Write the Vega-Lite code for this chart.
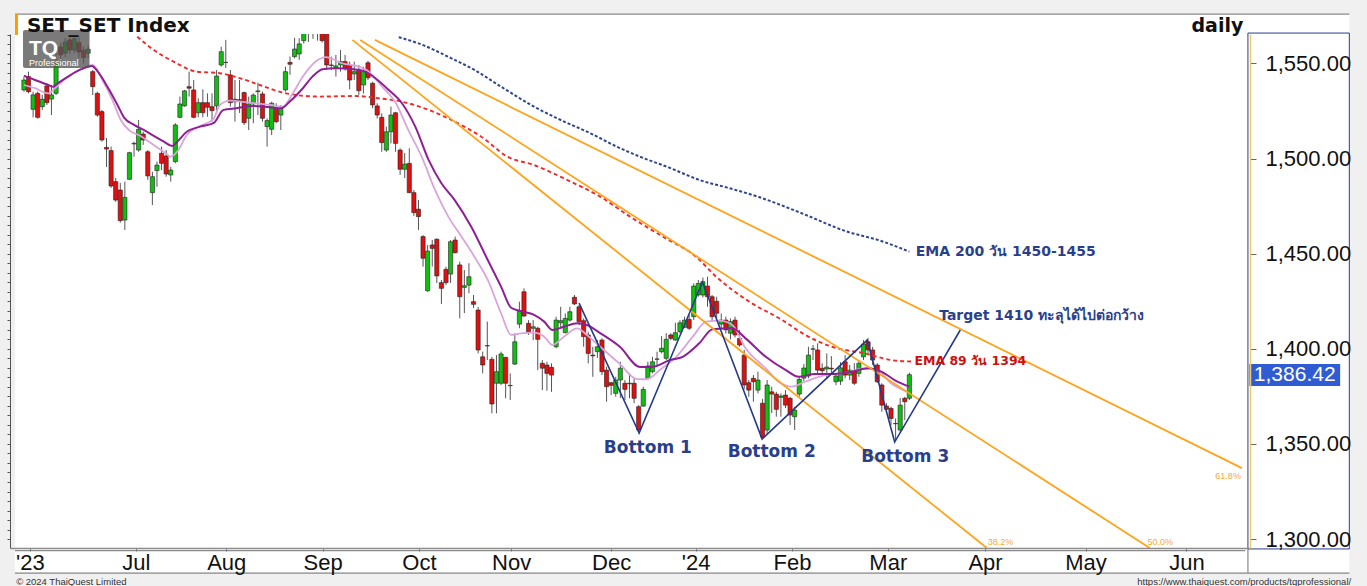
{
"$schema": "https://vega.github.io/schema/vega-lite/v6.json",
"autosize": {"type": "none"},
"width": 1240, "height": 514,
"padding": {"left": 10, "top": 34, "right": 117, "bottom": 38},
"background": "#f0f0f0",
"config": {"view": {"stroke": null}},
"resolve": {"axis": {"x": "independent", "y": "independent"}},
"datasets": {
"bg": [{"x1": -1.95, "x2": 288.9, "y1": 1576.0, "y2": 1282.6}],
"frame": [
{"x1": -1.95, "x2": 288.9, "y1": 1576.0, "y2": 1576.0},
{"x1": -1.95, "x2": 288.9, "y1": 1282.1, "y2": 1282.1},
{"x1": -1.95, "x2": 266.2, "y1": 1293.9, "y2": 1293.9},
{"x1": 266.8, "x2": 266.8, "y1": 1295.3, "y2": 1282.1}
],
"marker": [{"x1": -1.95, "x2": -1.3, "y1": 1576.0, "y2": 1565.0}],
"candles": [
{"t":0,"o":1536.1,"h":1543.1,"l":1535.2,"c":1541.3},
{"t":1,"o":1543.1,"h":1545.7,"l":1534.3,"c":1535.2},
{"t":2,"o":1525.9,"h":1535.2,"l":1521.7,"c":1533.5},
{"t":3,"o":1534.3,"h":1535.2,"l":1521.0,"c":1521.7},
{"t":4,"o":1527.3,"h":1533.5,"l":1525.6,"c":1531.2},
{"t":5,"o":1538.2,"h":1539.6,"l":1528.2,"c":1529.4},
{"t":6,"o":1531.3,"h":1538.7,"l":1522.9,"c":1533.5},
{"t":7,"o":1534.3,"h":1555.4,"l":1533.4,"c":1550.1},
{"t":8,"o":1558.7,"h":1560.8,"l":1551.9,"c":1554.5},
{"t":9,"o":1555.5,"h":1563.4,"l":1553.4,"c":1561.3},
{"t":10,"o":1562.4,"h":1563.4,"l":1555.0,"c":1557.1},
{"t":11,"o":1557.1,"h":1564.0,"l":1555.5,"c":1563.0},
{"t":12,"o":1561.0,"h":1564.0,"l":1553.0,"c":1556.0},
{"t":13,"o":1557.0,"h":1559.0,"l":1550.0,"c":1553.0},
{"t":14,"o":1555.4,"h":1559.7,"l":1552.9,"c":1557.5},
{"t":15,"o":1545.7,"h":1546.6,"l":1533.4,"c":1537.8},
{"t":16,"o":1534.3,"h":1535.2,"l":1522.0,"c":1522.9},
{"t":17,"o":1524.7,"h":1525.6,"l":1508.9,"c":1509.8},
{"t":18,"o":1505.9,"h":1510.8,"l":1495.6,"c":1505.0},
{"t":19,"o":1504.2,"h":1506.3,"l":1484.6,"c":1485.6},
{"t":20,"o":1487.9,"h":1489.8,"l":1477.3,"c":1478.2},
{"t":21,"o":1483.5,"h":1487.2,"l":1466.3,"c":1467.4},
{"t":22,"o":1467.7,"h":1487.9,"l":1462.5,"c":1479.6},
{"t":23,"o":1489.1,"h":1503.6,"l":1488.8,"c":1503.1},
{"t":24,"o":1507.7,"h":1508.9,"l":1501.0,"c":1508.0},
{"t":25,"o":1504.5,"h":1520.3,"l":1503.6,"c":1515.4},
{"t":26,"o":1512.9,"h":1514.1,"l":1507.2,"c":1509.8},
{"t":27,"o":1503.6,"h":1504.5,"l":1488.8,"c":1490.9},
{"t":28,"o":1482.1,"h":1493.1,"l":1475.6,"c":1490.5},
{"t":29,"o":1493.7,"h":1498.4,"l":1485.2,"c":1496.6},
{"t":30,"o":1502.8,"h":1506.3,"l":1494.0,"c":1497.5},
{"t":31,"o":1501.4,"h":1504.5,"l":1490.5,"c":1491.9},
{"t":32,"o":1491.4,"h":1495.7,"l":1487.9,"c":1494.0},
{"t":33,"o":1498.4,"h":1518.6,"l":1497.5,"c":1517.7},
{"t":34,"o":1521.7,"h":1532.6,"l":1521.2,"c":1528.7},
{"t":35,"o":1527.7,"h":1536.1,"l":1527.3,"c":1535.6},
{"t":36,"o":1537.8,"h":1545.7,"l":1532.6,"c":1537.0},
{"t":37,"o":1536.1,"h":1541.3,"l":1521.2,"c":1521.7},
{"t":38,"o":1524.1,"h":1531.7,"l":1521.7,"c":1529.4},
{"t":39,"o":1529.4,"h":1536.4,"l":1521.7,"c":1524.1},
{"t":40,"o":1529.4,"h":1534.3,"l":1522.0,"c":1527.0},
{"t":41,"o":1527.3,"h":1534.3,"l":1519.4,"c":1525.2},
{"t":42,"o":1527.7,"h":1546.6,"l":1523.8,"c":1543.4},
{"t":43,"o":1549.2,"h":1558.8,"l":1548.3,"c":1556.2},
{"t":44,"o":1550.5,"h":1562.4,"l":1547.6,"c":1550.6},
{"t":45,"o":1544.0,"h":1546.6,"l":1527.3,"c":1529.4},
{"t":46,"o":1531.2,"h":1541.3,"l":1519.4,"c":1529.9},
{"t":47,"o":1531.0,"h":1541.3,"l":1524.0,"c":1530.4},
{"t":48,"o":1534.7,"h":1535.2,"l":1517.7,"c":1518.9},
{"t":49,"o":1521.2,"h":1532.6,"l":1515.0,"c":1528.7},
{"t":50,"o":1528.7,"h":1534.3,"l":1518.6,"c":1533.4},
{"t":51,"o":1535.2,"h":1539.9,"l":1522.9,"c":1535.6},
{"t":52,"o":1534.0,"h":1535.2,"l":1519.4,"c":1521.2},
{"t":53,"o":1516.8,"h":1521.2,"l":1506.3,"c":1520.0},
{"t":54,"o":1515.4,"h":1529.9,"l":1512.4,"c":1529.1},
{"t":55,"o":1526.5,"h":1529.1,"l":1518.6,"c":1519.4},
{"t":56,"o":1522.9,"h":1528.2,"l":1515.0,"c":1526.5},
{"t":57,"o":1536.1,"h":1548.3,"l":1535.2,"c":1545.7},
{"t":58,"o":1550.6,"h":1553.6,"l":1544.0,"c":1549.6},
{"t":59,"o":1553.6,"h":1563.5,"l":1552.7,"c":1557.6},
{"t":60,"o":1555.0,"h":1563.3,"l":1551.9,"c":1560.3},
{"t":61,"o":1562.0,"h":1572.0,"l":1560.5,"c":1568.0},
{"t":62,"o":1566.0,"h":1574.0,"l":1561.3,"c":1570.0},
{"t":63,"o":1570.0,"h":1576.0,"l":1563.0,"c":1567.0},
{"t":64,"o":1567.0,"h":1572.0,"l":1562.0,"c":1570.0},
{"t":65,"o":1570.0,"h":1573.0,"l":1561.0,"c":1562.0},
{"t":66,"o":1566.0,"h":1568.0,"l":1547.0,"c":1549.2},
{"t":67,"o":1549.2,"h":1553.6,"l":1546.6,"c":1549.0},
{"t":68,"o":1547.8,"h":1554.5,"l":1543.1,"c":1548.7},
{"t":69,"o":1549.2,"h":1557.1,"l":1545.7,"c":1551.0},
{"t":70,"o":1551.0,"h":1554.5,"l":1546.3,"c":1547.5},
{"t":71,"o":1549.2,"h":1551.0,"l":1536.4,"c":1541.3},
{"t":72,"o":1544.5,"h":1551.0,"l":1541.3,"c":1545.7},
{"t":73,"o":1546.6,"h":1549.2,"l":1533.4,"c":1535.7},
{"t":74,"o":1538.7,"h":1548.3,"l":1534.2,"c":1545.7},
{"t":75,"o":1550.4,"h":1551.4,"l":1541.3,"c":1542.5},
{"t":76,"o":1539.6,"h":1540.4,"l":1526.5,"c":1528.2},
{"t":77,"o":1527.7,"h":1529.1,"l":1521.1,"c":1522.9},
{"t":78,"o":1521.7,"h":1523.8,"l":1503.6,"c":1508.4},
{"t":79,"o":1504.5,"h":1516.8,"l":1503.6,"c":1514.1},
{"t":80,"o":1514.1,"h":1527.3,"l":1508.0,"c":1522.9},
{"t":81,"o":1524.1,"h":1524.6,"l":1503.6,"c":1508.0},
{"t":82,"o":1504.5,"h":1505.4,"l":1491.4,"c":1494.4},
{"t":83,"o":1494.4,"h":1502.9,"l":1489.8,"c":1497.1},
{"t":84,"o":1497.5,"h":1505.4,"l":1481.8,"c":1482.1},
{"t":85,"o":1482.1,"h":1483.5,"l":1469.9,"c":1471.6},
{"t":86,"o":1473.4,"h":1478.2,"l":1462.5,"c":1469.5},
{"t":87,"o":1459.0,"h":1459.8,"l":1443.2,"c":1447.6},
{"t":88,"o":1430.5,"h":1454.6,"l":1430.0,"c":1451.4},
{"t":89,"o":1454.6,"h":1457.2,"l":1443.2,"c":1452.8},
{"t":90,"o":1457.6,"h":1458.1,"l":1434.6,"c":1438.3},
{"t":91,"o":1434.8,"h":1436.2,"l":1423.6,"c":1431.8},
{"t":92,"o":1441.8,"h":1443.2,"l":1433.5,"c":1434.8},
{"t":93,"o":1439.3,"h":1457.2,"l":1434.6,"c":1456.3},
{"t":94,"o":1457.2,"h":1459.0,"l":1450.2,"c":1450.5},
{"t":95,"o":1444.1,"h":1445.8,"l":1416.0,"c":1427.4},
{"t":96,"o":1432.3,"h":1441.4,"l":1418.8,"c":1433.2},
{"t":97,"o":1433.5,"h":1445.0,"l":1429.2,"c":1437.9},
{"t":98,"o":1424.8,"h":1428.3,"l":1421.5,"c":1423.4},
{"t":99,"o":1420.4,"h":1422.1,"l":1397.6,"c":1399.4},
{"t":100,"o":1395.8,"h":1398.5,"l":1387.1,"c":1391.5},
{"t":101,"o":1401.5,"h":1414.3,"l":1394.1,"c":1401.7},
{"t":102,"o":1394.5,"h":1395.8,"l":1366.1,"c":1371.0},
{"t":103,"o":1381.9,"h":1396.7,"l":1366.1,"c":1388.0},
{"t":104,"o":1381.9,"h":1398.5,"l":1381.0,"c":1397.3},
{"t":105,"o":1395.5,"h":1395.8,"l":1374.0,"c":1381.9},
{"t":106,"o":1380.6,"h":1387.1,"l":1373.1,"c":1380.8},
{"t":107,"o":1392.0,"h":1408.2,"l":1391.5,"c":1403.7},
{"t":108,"o":1413.0,"h":1424.8,"l":1410.8,"c":1420.0},
{"t":109,"o":1430.0,"h":1431.8,"l":1416.9,"c":1417.2},
{"t":110,"o":1413.4,"h":1415.1,"l":1407.3,"c":1408.5},
{"t":111,"o":1410.8,"h":1415.1,"l":1404.6,"c":1411.6},
{"t":112,"o":1410.8,"h":1411.6,"l":1388.8,"c":1405.0},
{"t":113,"o":1392.4,"h":1394.1,"l":1378.3,"c":1389.8},
{"t":114,"o":1391.5,"h":1393.2,"l":1378.0,"c":1387.1},
{"t":115,"o":1390.3,"h":1392.4,"l":1377.4,"c":1386.2},
{"t":116,"o":1401.1,"h":1416.9,"l":1400.3,"c":1415.1},
{"t":117,"o":1413.7,"h":1422.1,"l":1410.8,"c":1414.8},
{"t":118,"o":1408.5,"h":1418.6,"l":1408.2,"c":1416.0},
{"t":119,"o":1415.1,"h":1422.1,"l":1414.3,"c":1419.5},
{"t":120,"o":1427.1,"h":1428.3,"l":1423.0,"c":1423.6},
{"t":121,"o":1422.1,"h":1423.0,"l":1412.5,"c":1414.3},
{"t":122,"o":1414.8,"h":1416.0,"l":1401.1,"c":1406.4},
{"t":123,"o":1407.3,"h":1409.0,"l":1392.4,"c":1397.6},
{"t":124,"o":1396.7,"h":1401.1,"l":1385.3,"c":1396.3},
{"t":125,"o":1398.5,"h":1404.6,"l":1395.2,"c":1401.1},
{"t":126,"o":1404.6,"h":1405.6,"l":1386.2,"c":1388.0},
{"t":127,"o":1388.8,"h":1390.6,"l":1372.2,"c":1380.1},
{"t":128,"o":1382.2,"h":1382.7,"l":1375.7,"c":1380.8},
{"t":129,"o":1376.6,"h":1385.3,"l":1374.8,"c":1383.6},
{"t":130,"o":1383.6,"h":1393.2,"l":1374.1,"c":1389.8},
{"t":131,"o":1381.9,"h":1383.6,"l":1373.1,"c":1378.7},
{"t":132,"o":1381.9,"h":1387.1,"l":1374.0,"c":1381.6},
{"t":133,"o":1381.9,"h":1384.5,"l":1371.4,"c":1374.0},
{"t":134,"o":1369.6,"h":1370.4,"l":1355.6,"c":1357.3},
{"t":135,"o":1369.9,"h":1380.1,"l":1369.6,"c":1378.7},
{"t":136,"o":1384.5,"h":1393.2,"l":1383.6,"c":1391.0},
{"t":137,"o":1388.0,"h":1395.8,"l":1387.1,"c":1393.2},
{"t":138,"o":1394.5,"h":1398.5,"l":1391.5,"c":1394.7},
{"t":139,"o":1398.5,"h":1406.7,"l":1397.6,"c":1400.3},
{"t":140,"o":1395.0,"h":1408.2,"l":1394.1,"c":1405.0},
{"t":141,"o":1407.3,"h":1408.2,"l":1404.6,"c":1405.5},
{"t":142,"o":1404.6,"h":1413.7,"l":1404.3,"c":1408.5},
{"t":143,"o":1409.0,"h":1415.1,"l":1408.2,"c":1413.7},
{"t":144,"o":1411.3,"h":1416.9,"l":1410.8,"c":1415.1},
{"t":145,"o":1415.5,"h":1417.8,"l":1409.9,"c":1410.8},
{"t":146,"o":1416.9,"h":1434.4,"l":1415.1,"c":1433.0},
{"t":147,"o":1428.3,"h":1436.2,"l":1427.4,"c":1434.4},
{"t":148,"o":1428.3,"h":1437.5,"l":1427.0,"c":1435.3},
{"t":149,"o":1433.0,"h":1437.9,"l":1422.1,"c":1427.4},
{"t":150,"o":1427.4,"h":1428.3,"l":1414.3,"c":1416.9},
{"t":151,"o":1425.0,"h":1427.4,"l":1416.0,"c":1418.7},
{"t":152,"o":1413.0,"h":1418.6,"l":1410.4,"c":1415.1},
{"t":153,"o":1415.1,"h":1416.9,"l":1408.0,"c":1410.0},
{"t":154,"o":1408.2,"h":1416.0,"l":1405.0,"c":1414.3},
{"t":155,"o":1415.1,"h":1416.9,"l":1406.0,"c":1407.3},
{"t":156,"o":1405.5,"h":1409.9,"l":1401.1,"c":1402.0},
{"t":157,"o":1396.7,"h":1399.4,"l":1378.7,"c":1381.0},
{"t":158,"o":1382.2,"h":1383.6,"l":1374.8,"c":1378.3},
{"t":159,"o":1384.5,"h":1386.2,"l":1372.2,"c":1382.7},
{"t":160,"o":1378.3,"h":1388.0,"l":1376.6,"c":1383.6},
{"t":161,"o":1371.4,"h":1373.7,"l":1352.6,"c":1353.6},
{"t":162,"o":1357.3,"h":1383.6,"l":1354.7,"c":1381.0},
{"t":163,"o":1377.4,"h":1380.1,"l":1366.2,"c":1376.2},
{"t":164,"o":1376.2,"h":1377.4,"l":1364.3,"c":1368.2},
{"t":165,"o":1374.5,"h":1376.6,"l":1364.3,"c":1375.2},
{"t":166,"o":1375.7,"h":1378.3,"l":1368.9,"c":1370.4},
{"t":167,"o":1374.0,"h":1374.8,"l":1360.0,"c":1365.2},
{"t":168,"o":1364.3,"h":1369.6,"l":1357.3,"c":1367.8},
{"t":169,"o":1376.2,"h":1385.3,"l":1374.8,"c":1383.9},
{"t":170,"o":1384.6,"h":1392.0,"l":1383.0,"c":1389.9},
{"t":171,"o":1385.7,"h":1401.1,"l":1384.5,"c":1396.7},
{"t":172,"o":1399.8,"h":1402.0,"l":1394.1,"c":1400.0},
{"t":173,"o":1399.4,"h":1402.9,"l":1387.1,"c":1388.8},
{"t":174,"o":1389.8,"h":1392.4,"l":1387.1,"c":1388.5},
{"t":175,"o":1389.4,"h":1397.6,"l":1384.5,"c":1390.4},
{"t":176,"o":1389.8,"h":1396.2,"l":1387.1,"c":1389.4},
{"t":177,"o":1382.7,"h":1387.1,"l":1380.9,"c":1385.7},
{"t":178,"o":1383.0,"h":1393.0,"l":1381.0,"c":1390.0},
{"t":179,"o":1393.2,"h":1396.7,"l":1384.5,"c":1386.2},
{"t":180,"o":1386.2,"h":1391.5,"l":1383.6,"c":1388.8},
{"t":181,"o":1388.5,"h":1392.4,"l":1381.0,"c":1381.9},
{"t":182,"o":1387.1,"h":1394.1,"l":1385.3,"c":1392.4},
{"t":183,"o":1395.8,"h":1404.6,"l":1394.1,"c":1402.5},
{"t":184,"o":1403.7,"h":1405.6,"l":1397.6,"c":1399.4},
{"t":185,"o":1399.4,"h":1401.1,"l":1391.5,"c":1394.1},
{"t":186,"o":1391.5,"h":1392.5,"l":1382.0,"c":1382.7},
{"t":187,"o":1381.0,"h":1381.9,"l":1366.9,"c":1370.4},
{"t":188,"o":1369.9,"h":1371.5,"l":1366.2,"c":1368.2},
{"t":189,"o":1368.7,"h":1369.6,"l":1359.9,"c":1363.4},
{"t":190,"o":1360.8,"h":1363.4,"l":1352.1,"c":1360.6},
{"t":191,"o":1357.3,"h":1374.1,"l":1356.4,"c":1370.4},
{"t":192,"o":1374.0,"h":1374.8,"l":1362.5,"c":1372.2},
{"t":193,"o":1374.0,"h":1387.5,"l":1373.1,"c":1386.42}
],
"ema_dark": [
{"t":0,"v":1543.6},{"t":2.4,"v":1541.3},{"t":5.3,"v":1538.7},{"t":6.3,"v":1537.8},{"t":7.4,"v":1539.6},{"t":9.6,"v":1543.1},{"t":12.5,"v":1547.0},{"t":14.8,"v":1548.7},{"t":16.1,"v":1545.7},{"t":18.2,"v":1537.8},{"t":20.4,"v":1528.2},{"t":21.8,"v":1521.7},{"t":24,"v":1517.7},{"t":26.2,"v":1515.0},{"t":28.3,"v":1511.9},{"t":30.5,"v":1508.9},{"t":32.3,"v":1506.6},{"t":33.4,"v":1508.9},{"t":35.5,"v":1514.1},{"t":38.4,"v":1516.8},{"t":41.3,"v":1518.6},{"t":43.5,"v":1525.6},{"t":46.3,"v":1526.5},{"t":49.9,"v":1527.7},{"t":53.6,"v":1527.0},{"t":56.1,"v":1526.5},{"t":57.9,"v":1529.9},{"t":60.8,"v":1537.0},{"t":62.9,"v":1543.1},{"t":65.1,"v":1547.0},{"t":68,"v":1547.5},{"t":71.6,"v":1547.0},{"t":74.4,"v":1545.7},{"t":76.6,"v":1542.2},{"t":79.5,"v":1536.1},{"t":82.4,"v":1529.1},{"t":85.3,"v":1516.8},{"t":88.2,"v":1499.3},{"t":91,"v":1487.0},{"t":93.9,"v":1478.2},{"t":97.5,"v":1464.2},{"t":101.1,"v":1446.7},{"t":104,"v":1432.7},{"t":106.2,"v":1421.6},{"t":108.3,"v":1419.9},{"t":111.2,"v":1417.8},{"t":113.4,"v":1414.3},{"t":115.2,"v":1409.9},{"t":117.7,"v":1411.6},{"t":120.6,"v":1413.4},{"t":122.7,"v":1412.5},{"t":125.6,"v":1408.3},{"t":129.9,"v":1401.1},{"t":134.3,"v":1390.4},{"t":137.1,"v":1390.6},{"t":140.8,"v":1394.1},{"t":143.6,"v":1395.8},{"t":147.2,"v":1402.9},{"t":150.1,"v":1410.3},{"t":154.4,"v":1410.8},{"t":157.3,"v":1405.5},{"t":161.7,"v":1395.8},{"t":166,"v":1388.9},{"t":168.9,"v":1385.3},{"t":172.5,"v":1386.8},{"t":176.1,"v":1386.8},{"t":180.4,"v":1388.0},{"t":184,"v":1389.8},{"t":186.9,"v":1388.0},{"t":189.8,"v":1383.6},{"t":193,"v":1380.1}
],
"ema_light": [
{"t":0,"v":1538.7},{"t":2.4,"v":1537.0},{"t":5.3,"v":1534.3},{"t":7.1,"v":1537.8},{"t":9.6,"v":1543.1},{"t":12.5,"v":1547.0},{"t":15,"v":1549.2},{"t":17.1,"v":1541.3},{"t":19.3,"v":1530.8},{"t":21.1,"v":1520.3},{"t":22.9,"v":1515.0},{"t":25.4,"v":1511.9},{"t":28.3,"v":1507.1},{"t":30.9,"v":1502.8},{"t":31.9,"v":1501.0},{"t":33.4,"v":1503.6},{"t":35.5,"v":1512.4},{"t":38.4,"v":1517.1},{"t":41.3,"v":1520.7},{"t":42.7,"v":1528.2},{"t":44.9,"v":1530.5},{"t":49.2,"v":1529.4},{"t":53.6,"v":1528.2},{"t":56.4,"v":1527.3},{"t":58.6,"v":1534.3},{"t":60.8,"v":1543.1},{"t":63.6,"v":1551.0},{"t":65.8,"v":1553.3},{"t":69.4,"v":1550.1},{"t":73,"v":1548.3},{"t":75.2,"v":1545.7},{"t":78.1,"v":1537.8},{"t":80.9,"v":1529.9},{"t":83.8,"v":1515.0},{"t":86.7,"v":1501.0},{"t":89.6,"v":1483.5},{"t":92.5,"v":1469.5},{"t":95.4,"v":1458.9},{"t":98.2,"v":1448.4},{"t":101.1,"v":1436.2},{"t":104,"v":1418.7},{"t":106.2,"v":1407.3},{"t":108.3,"v":1408.1},{"t":111.2,"v":1408.5},{"t":113.4,"v":1406.4},{"t":115.2,"v":1402.0},{"t":117.7,"v":1406.4},{"t":120.6,"v":1410.8},{"t":122.7,"v":1407.3},{"t":125.6,"v":1401.1},{"t":129.9,"v":1392.0},{"t":133.6,"v":1384.1},{"t":135.7,"v":1384.0},{"t":138.6,"v":1388.9},{"t":142.2,"v":1395.8},{"t":145.8,"v":1406.4},{"t":148.7,"v":1414.3},{"t":151.6,"v":1414.8},{"t":154.4,"v":1412.5},{"t":157.3,"v":1400.3},{"t":161.7,"v":1389.7},{"t":164.5,"v":1382.7},{"t":167.4,"v":1380.1},{"t":170.3,"v":1382.7},{"t":174.6,"v":1386.2},{"t":179,"v":1387.4},{"t":183.3,"v":1389.7},{"t":186.2,"v":1388.5},{"t":189,"v":1381.9},{"t":192.6,"v":1377.4}
],
"ema89": [
{"t":24.7,"v":1564.1},{"t":28.3,"v":1557.1},{"t":32.6,"v":1551.0},{"t":37.7,"v":1545.7},{"t":42.7,"v":1544.9},{"t":47.8,"v":1541.7},{"t":51.4,"v":1538.7},{"t":57.1,"v":1534.3},{"t":64.4,"v":1532.6},{"t":72.3,"v":1532.9},{"t":77.3,"v":1531.7},{"t":82.4,"v":1529.9},{"t":88.2,"v":1525.6},{"t":93.9,"v":1519.4},{"t":99.7,"v":1511.5},{"t":105.4,"v":1501.0},{"t":111.2,"v":1496.6},{"t":118.4,"v":1488.8},{"t":125.6,"v":1480.0},{"t":132.1,"v":1469.5},{"t":139.3,"v":1458.9},{"t":146.5,"v":1448.4},{"t":150.9,"v":1437.9},{"t":158.1,"v":1424.8},{"t":165.3,"v":1415.1},{"t":170.3,"v":1407.3},{"t":176.1,"v":1401.1},{"t":183.3,"v":1397.6},{"t":189,"v":1394.1},{"t":193.4,"v":1393.3}
],
"ema200": [
{"t":81.7,"v":1563.8},{"t":86,"v":1560.6},{"t":93.2,"v":1552.7},{"t":98.2,"v":1546.6},{"t":104,"v":1537.8},{"t":111.2,"v":1527.3},{"t":117,"v":1520.3},{"t":123.5,"v":1513.3},{"t":129.2,"v":1506.3},{"t":134.3,"v":1501.0},{"t":140.8,"v":1495.1},{"t":147.2,"v":1488.8},{"t":153.7,"v":1484.5},{"t":160.2,"v":1479.8},{"t":168.9,"v":1471.9},{"t":179.7,"v":1461.4},{"t":186.2,"v":1457.2},{"t":193,"v":1451.1}
],
"fans": [
{"id":"38.2","t":71.6,"v":1562.4},{"id":"38.2","t":209.9,"v":1295.3},
{"id":"50.0","t":73.3,"v":1562.4},{"id":"50.0","t":245.4,"v":1295.3},
{"id":"61.8","t":76.5,"v":1562.4},{"id":"61.8","t":265.5,"v":1337.3}
],
"zig": [
{"t":121,"v":1424.0},{"t":134.1,"v":1355.7},{"t":147.9,"v":1435.1},{"t":160.9,"v":1352.6},{"t":183.8,"v":1404.6},{"t":189.8,"v":1351.0},{"t":204.1,"v":1409.9}
],
"logo": [{"x1": -0.2, "x2": 14.3, "y1": 1567.6, "y2": 1547.6}],
"logo_big": [{"t": 1.1, "v": 1557.6, "label": "TQ"}],
"logo_small": [{"t": 1.1, "v": 1550.4, "label": "Professional"}],
"title_l": [{"t": 0.65, "v": 1569.9, "label": "SET_SET Index"}],
"title_r": [{"t": 265.8, "v": 1569.9, "label": "daily"}],
"bottoms": [{"t":136,"v":1347.9,"label":"Bottom 1"},{"t":163,"v":1345.7,"label":"Bottom 2"},{"t":192.1,"v":1342.9,"label":"Bottom 3"}],
"notes_navy": [{"t":194.4,"v":1451.1,"label":"EMA 200 วัน 1450-1455"},{"t":199.5,"v":1417.0,"label":"Target 1410 ทะลุได้ไปต่อกว้าง"}],
"notes_red": [{"t":194.1,"v":1393.7,"label":"EMA 89 วัน 1394"}],
"fib_labels": [{"t":210.1,"v":1298.2,"label":"38.2%"},{"t":244.9,"v":1298.2,"label":"50.0%"},{"t":259.7,"v":1333.4,"label":"61.8%"}],
"pricebox": [{"x1": 267.1, "x2": 286.9, "y1": 1392.0, "y2": 1380.4}],
"pricetext": [{"t": 277.0, "v": 1386.2, "label": "1,386.42"}],
"panel": [{"x1": 266.8, "x2": 288.9, "y1": 1566.0, "y2": 1294.8}],
"foot_l": [{"t": -1.7, "v": 1277.6, "label": "© 2024 ThaiQuest Limited"}],
"foot_r": [{"t": 289.3, "v": 1277.6, "label": "https://www.thaiquest.com/products/tqprofessional/"}]
},
"layer": [
{"data": {"name": "bg"}, "mark": {"type": "rect", "fill": "#ffffff", "clip": false},
 "encoding": {"x": {"field": "x1", "type": "quantitative", "scale": {"domain": [-1.946, 266.16], "nice": false, "zero": false}, "axis": null}, "x2": {"field": "x2"},
  "y": {"field": "y1", "type": "quantitative", "scale": {"domain": [1295.3, 1565.5], "nice": false, "zero": false}, "axis": null}, "y2": {"field": "y2"}}},
{"data": {"name": "frame"}, "mark": {"type": "rule", "color": "#8a8a8a", "strokeWidth": 1.2, "clip": false},
 "encoding": {"x": {"field": "x1", "type": "quantitative", "scale": {"domain": [-1.946, 266.16], "nice": false, "zero": false}, "axis": null}, "x2": {"field": "x2"},
  "y": {"field": "y1", "type": "quantitative", "scale": {"domain": [1295.3, 1565.5], "nice": false, "zero": false}, "axis": null}, "y2": {"field": "y2"}}},
{"data": {"name": "marker"}, "mark": {"type": "rect", "fill": "#ff9c00", "clip": false},
 "encoding": {"x": {"field": "x1", "type": "quantitative", "scale": {"domain": [-1.946, 266.16], "nice": false, "zero": false}, "axis": null}, "x2": {"field": "x2"},
  "y": {"field": "y1", "type": "quantitative", "scale": {"domain": [1295.3, 1565.5], "nice": false, "zero": false}, "axis": null}, "y2": {"field": "y2"}}},
{"data": {"name": "candles"}, "mark": {"type": "rule", "color": "#555555", "strokeWidth": 1, "clip": true},
 "encoding": {
  "x": {"field": "t", "type": "quantitative", "scale": {"domain": [-1.946, 266.16], "nice": false, "zero": false},
   "axis": {"orient": "bottom", "zindex": 2, "title": null, "grid": false, "values": [1.3, 24.4, 44.1, 65.1, 86.1, 106.2, 128, 146.4, 167.4, 188.3, 209.5, 231.4, 253.4],
    "labelExpr": "[\"'23\",\"Jul\",\"Aug\",\"Sep\",\"Oct\",\"Nov\",\"Dec\",\"'24\",\"Feb\",\"Mar\",\"Apr\",\"May\",\"Jun\"][indexof([1.3,24.4,44.1,65.1,86.1,106.2,128,146.4,167.4,188.3,209.5,231.4,253.4], datum.value)]",
    "labelFont": "Liberation Sans", "labelFontSize": 22, "labelColor": "#111111", "labelFlush": false, "labelOverlap": false,
    "tickSize": 3, "tickColor": "#777777", "labelPadding": 1, "domainColor": "#8a8a8a", "domainWidth": 1.5}},
  "y": {"field": "l", "type": "quantitative", "scale": {"domain": [1295.3, 1565.5], "nice": false, "zero": false},
   "axis": {"orient": "right", "zindex": 2, "title": null, "grid": false, "values": [1300, 1350, 1400, 1450, 1500, 1550], "format": ",.2f",
    "labelFont": "Liberation Sans", "labelFontSize": 22, "labelColor": "#111111", "tickSize": 6, "tickColor": "#666666", "labelPadding": 9,
    "domainColor": "#e8cc66", "domainWidth": 1.5}},
  "y2": {"field": "h"}}},
{"data": {"name": "candles"}, "mark": {"type": "bar", "size": 4.2, "stroke": "#222222", "strokeWidth": 0.6, "clip": true},
 "encoding": {
  "x": {"field": "t", "type": "quantitative", "scale": {"domain": [-1.946, 266.16], "nice": false, "zero": false}, "axis": null},
  "y": {"field": "o", "type": "quantitative", "scale": {"domain": [1295.3, 1565.5], "nice": false, "zero": false},
   "axis": {"orient": "left", "zindex": 2, "title": null, "grid": false, "labels": false, "tickSize": 3, "tickColor": "#555555", "domainColor": "#555555",
    "values": [1300,1305,1310,1315,1320,1325,1330,1335,1340,1345,1350,1355,1360,1365,1370,1375,1380,1385,1390,1395,1400,1405,1410,1415,1420,1425,1430,1435,1440,1445,1450,1455,1460,1465,1470,1475,1480,1485,1490,1495,1500,1505,1510,1515,1520,1525,1530,1535,1540,1545,1550,1555,1560,1565]}},
  "y2": {"field": "c"},
  "color": {"condition": {"test": "datum.c >= datum.o", "value": "#10c010"}, "value": "#e01010"}}},
{"data": {"name": "ema200"}, "mark": {"type": "line", "color": "#30468c", "strokeWidth": 2, "strokeDash": [3, 2], "interpolate": "monotone", "clip": true},
 "encoding": {"x": {"field": "t", "type": "quantitative", "scale": {"domain": [-1.946, 266.16], "nice": false, "zero": false}, "axis": null},
  "y": {"field": "v", "type": "quantitative", "scale": {"domain": [1295.3, 1565.5], "nice": false, "zero": false}, "axis": null}}},
{"data": {"name": "ema89"}, "mark": {"type": "line", "color": "#ee2a2a", "strokeWidth": 1.9, "strokeDash": [4, 3], "interpolate": "monotone", "clip": true},
 "encoding": {"x": {"field": "t", "type": "quantitative", "scale": {"domain": [-1.946, 266.16], "nice": false, "zero": false}, "axis": null},
  "y": {"field": "v", "type": "quantitative", "scale": {"domain": [1295.3, 1565.5], "nice": false, "zero": false}, "axis": null}}},
{"data": {"name": "ema_light"}, "mark": {"type": "line", "color": "#d9a6dc", "strokeWidth": 1.8, "interpolate": "monotone", "clip": true},
 "encoding": {"x": {"field": "t", "type": "quantitative", "scale": {"domain": [-1.946, 266.16], "nice": false, "zero": false}, "axis": null},
  "y": {"field": "v", "type": "quantitative", "scale": {"domain": [1295.3, 1565.5], "nice": false, "zero": false}, "axis": null}}},
{"data": {"name": "ema_dark"}, "mark": {"type": "line", "color": "#8e1f94", "strokeWidth": 2, "interpolate": "monotone", "clip": true},
 "encoding": {"x": {"field": "t", "type": "quantitative", "scale": {"domain": [-1.946, 266.16], "nice": false, "zero": false}, "axis": null},
  "y": {"field": "v", "type": "quantitative", "scale": {"domain": [1295.3, 1565.5], "nice": false, "zero": false}, "axis": null}}},
{"data": {"name": "fans"}, "mark": {"type": "line", "color": "#ffa31a", "strokeWidth": 1.8, "clip": true},
 "encoding": {"x": {"field": "t", "type": "quantitative", "scale": {"domain": [-1.946, 266.16], "nice": false, "zero": false}, "axis": null},
  "y": {"field": "v", "type": "quantitative", "scale": {"domain": [1295.3, 1565.5], "nice": false, "zero": false}, "axis": null},
  "detail": {"field": "id", "type": "nominal"}}},
{"data": {"name": "zig"}, "mark": {"type": "line", "color": "#24398a", "strokeWidth": 1.6, "clip": true},
 "encoding": {"x": {"field": "t", "type": "quantitative", "scale": {"domain": [-1.946, 266.16], "nice": false, "zero": false}, "axis": null},
  "y": {"field": "v", "type": "quantitative", "scale": {"domain": [1295.3, 1565.5], "nice": false, "zero": false}, "axis": null}}},
{"data": {"name": "logo"}, "mark": {"type": "rect", "fill": "#555555", "opacity": 0.78, "cornerRadius": 2, "clip": false},
 "encoding": {"x": {"field": "x1", "type": "quantitative", "scale": {"domain": [-1.946, 266.16], "nice": false, "zero": false}, "axis": null}, "x2": {"field": "x2"},
  "y": {"field": "y1", "type": "quantitative", "scale": {"domain": [1295.3, 1565.5], "nice": false, "zero": false}, "axis": null}, "y2": {"field": "y2"}}},
{"data": {"name": "logo_big"}, "mark": {"type": "text", "align": "left", "baseline": "middle", "font": "Liberation Sans", "fontWeight": "bold", "fontSize": 21, "color": "#ffffff"},
 "encoding": {"x": {"field": "t", "type": "quantitative", "scale": {"domain": [-1.946, 266.16], "nice": false, "zero": false}, "axis": null},
  "y": {"field": "v", "type": "quantitative", "scale": {"domain": [1295.3, 1565.5], "nice": false, "zero": false}, "axis": null}, "text": {"field": "label"}}},
{"data": {"name": "logo_small"}, "mark": {"type": "text", "align": "left", "baseline": "middle", "font": "Liberation Sans", "fontSize": 9, "color": "#ffffff"},
 "encoding": {"x": {"field": "t", "type": "quantitative", "scale": {"domain": [-1.946, 266.16], "nice": false, "zero": false}, "axis": null},
  "y": {"field": "v", "type": "quantitative", "scale": {"domain": [1295.3, 1565.5], "nice": false, "zero": false}, "axis": null}, "text": {"field": "label"}}},
{"data": {"name": "title_l"}, "mark": {"type": "text", "align": "left", "baseline": "middle", "font": "DejaVu Sans", "fontWeight": "bold", "fontSize": 20, "color": "#111111"},
 "encoding": {"x": {"field": "t", "type": "quantitative", "scale": {"domain": [-1.946, 266.16], "nice": false, "zero": false}, "axis": null},
  "y": {"field": "v", "type": "quantitative", "scale": {"domain": [1295.3, 1565.5], "nice": false, "zero": false}, "axis": null}, "text": {"field": "label"}}},
{"data": {"name": "title_r"}, "mark": {"type": "text", "align": "right", "baseline": "middle", "font": "DejaVu Sans", "fontWeight": "bold", "fontSize": 19, "color": "#111111"},
 "encoding": {"x": {"field": "t", "type": "quantitative", "scale": {"domain": [-1.946, 266.16], "nice": false, "zero": false}, "axis": null},
  "y": {"field": "v", "type": "quantitative", "scale": {"domain": [1295.3, 1565.5], "nice": false, "zero": false}, "axis": null}, "text": {"field": "label"}}},
{"data": {"name": "bottoms"}, "mark": {"type": "text", "align": "center", "baseline": "middle", "font": "DejaVu Sans", "fontWeight": "bold", "fontSize": 17, "color": "#2a3f8c"},
 "encoding": {"x": {"field": "t", "type": "quantitative", "scale": {"domain": [-1.946, 266.16], "nice": false, "zero": false}, "axis": null},
  "y": {"field": "v", "type": "quantitative", "scale": {"domain": [1295.3, 1565.5], "nice": false, "zero": false}, "axis": null}, "text": {"field": "label"}}},
{"data": {"name": "notes_navy"}, "mark": {"type": "text", "align": "left", "baseline": "middle", "font": "DejaVu Sans", "fontWeight": "bold", "fontSize": 14, "color": "#2a3f8c"},
 "encoding": {"x": {"field": "t", "type": "quantitative", "scale": {"domain": [-1.946, 266.16], "nice": false, "zero": false}, "axis": null},
  "y": {"field": "v", "type": "quantitative", "scale": {"domain": [1295.3, 1565.5], "nice": false, "zero": false}, "axis": null}, "text": {"field": "label"}}},
{"data": {"name": "notes_red"}, "mark": {"type": "text", "align": "left", "baseline": "middle", "font": "DejaVu Sans", "fontWeight": "bold", "fontSize": 12.5, "color": "#cc1111"},
 "encoding": {"x": {"field": "t", "type": "quantitative", "scale": {"domain": [-1.946, 266.16], "nice": false, "zero": false}, "axis": null},
  "y": {"field": "v", "type": "quantitative", "scale": {"domain": [1295.3, 1565.5], "nice": false, "zero": false}, "axis": null}, "text": {"field": "label"}}},
{"data": {"name": "fib_labels"}, "mark": {"type": "text", "align": "left", "baseline": "middle", "font": "Liberation Sans", "fontSize": 9, "color": "#f5a83a"},
 "encoding": {"x": {"field": "t", "type": "quantitative", "scale": {"domain": [-1.946, 266.16], "nice": false, "zero": false}, "axis": null},
  "y": {"field": "v", "type": "quantitative", "scale": {"domain": [1295.3, 1565.5], "nice": false, "zero": false}, "axis": null}, "text": {"field": "label"}}},
{"data": {"name": "panel"}, "mark": {"type": "rect", "fill": null, "stroke": "#2b3b8c", "strokeWidth": 1, "clip": false},
 "encoding": {"x": {"field": "x1", "type": "quantitative", "scale": {"domain": [-1.946, 266.16], "nice": false, "zero": false}, "axis": null}, "x2": {"field": "x2"},
  "y": {"field": "y1", "type": "quantitative", "scale": {"domain": [1295.3, 1565.5], "nice": false, "zero": false}, "axis": null}, "y2": {"field": "y2"}}},
{"data": {"name": "pricebox"}, "mark": {"type": "rect", "fill": "#2f5bd3", "clip": false},
 "encoding": {"x": {"field": "x1", "type": "quantitative", "scale": {"domain": [-1.946, 266.16], "nice": false, "zero": false}, "axis": null}, "x2": {"field": "x2"},
  "y": {"field": "y1", "type": "quantitative", "scale": {"domain": [1295.3, 1565.5], "nice": false, "zero": false}, "axis": null}, "y2": {"field": "y2"}}},
{"data": {"name": "pricetext"}, "mark": {"type": "text", "align": "center", "baseline": "middle", "font": "Liberation Sans", "fontSize": 21, "color": "#ffffff"},
 "encoding": {"x": {"field": "t", "type": "quantitative", "scale": {"domain": [-1.946, 266.16], "nice": false, "zero": false}, "axis": null},
  "y": {"field": "v", "type": "quantitative", "scale": {"domain": [1295.3, 1565.5], "nice": false, "zero": false}, "axis": null}, "text": {"field": "label"}}},
{"data": {"name": "foot_l"}, "mark": {"type": "text", "align": "left", "baseline": "middle", "font": "Liberation Sans", "fontSize": 9.5, "color": "#333333"},
 "encoding": {"x": {"field": "t", "type": "quantitative", "scale": {"domain": [-1.946, 266.16], "nice": false, "zero": false}, "axis": null},
  "y": {"field": "v", "type": "quantitative", "scale": {"domain": [1295.3, 1565.5], "nice": false, "zero": false}, "axis": null}, "text": {"field": "label"}}},
{"data": {"name": "foot_r"}, "mark": {"type": "text", "align": "right", "baseline": "middle", "font": "Liberation Sans", "fontSize": 9.5, "color": "#333333"},
 "encoding": {"x": {"field": "t", "type": "quantitative", "scale": {"domain": [-1.946, 266.16], "nice": false, "zero": false}, "axis": null},
  "y": {"field": "v", "type": "quantitative", "scale": {"domain": [1295.3, 1565.5], "nice": false, "zero": false}, "axis": null}, "text": {"field": "label"}}}
]
}
